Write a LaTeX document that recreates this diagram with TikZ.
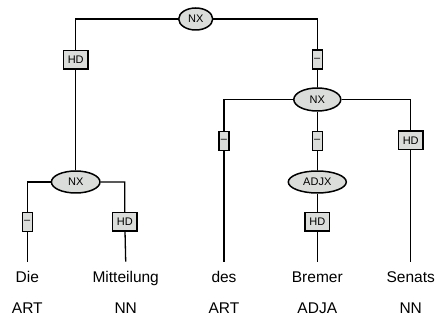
\documentclass[tikz,border=0pt]{standalone}
\usepackage{fontspec}
\setmainfont{Liberation Sans}
\usetikzlibrary{shapes.geometric,backgrounds}
\definecolor{nodegrey}{RGB}{218,221,217}
\begin{document}
\begin{tikzpicture}[x=1pt,y=-1pt,
  catnode/.style={ellipse,draw=black,line width=1.5pt,fill=nodegrey,inner sep=0pt,minimum height=22pt,font=\fontsize{11}{12}\selectfont},
  funcbox/.style={rectangle,draw=black,line width=1.5pt,fill=nodegrey,inner sep=0pt,minimum height=18.5pt,minimum width=24.5pt,font=\fontsize{11}{12}\selectfont},
  dashbox/.style={funcbox,minimum width=10pt,minimum height=19pt},
  word/.style={inner sep=0pt,outer ysep=10pt,text height=11pt,text depth=0pt,font=\fontsize{15.5}{17}\selectfont},
  tag/.style={inner sep=0pt,text height=11pt,text depth=0pt,font=\fontsize{15.5}{17}\selectfont},
  edge/.style={line width=1.3pt,draw=black}]
\useasboundingbox (0,0) rectangle (436,320);
% nodes
\node[catnode,minimum width=34pt] (nxA) at (195.7,19) {NX};
\node[funcbox] (hdA) at (75.7,60) {HD};
\node[dashbox] (dA) at (317.3,59.5) {–};
\node[catnode,minimum width=47pt,minimum height=23pt] (nxB) at (317.3,99.5) {NX};
\node[catnode,minimum width=48.6pt] (nxC) at (75.7,182) {NX};
\node[dashbox] (dB) at (224,141) {–};
\node[dashbox] (dC) at (317.3,141) {–};
\node[funcbox] (hdB) at (410.7,140.5) {HD};
\node[catnode,minimum width=58pt] (adjx) at (317.3,182) {ADJX};
\node[dashbox] (dD) at (27.3,222) {–};
\node[funcbox] (hdC) at (124.8,222) {HD};
\node[funcbox] (hdD) at (317.3,222) {HD};
% words
\node[word] (w1) at (27.3,277.2) {Die};
\node[word] (w2) at (125.7,277.2) {Mitteilung};
\node[word] (w3) at (224,277.2) {des};
\node[word] (w4) at (317.3,277.2) {Bremer};
\node[word] (w5) at (410.7,277.2) {Senats};
\node[tag] (t1) at (27.3,307.7) {ART};
\node[tag] (t2) at (125.7,307.7) {NN};
\node[tag] (t3) at (224,307.7) {ART};
\node[tag] (t4) at (317.3,307.7) {ADJA};
\node[tag] (t5) at (410.7,307.7) {NN};
% edges
\begin{scope}[on background layer]
\draw[edge] (nxA) -| (hdA) -- (nxC);
\draw[edge] (nxA) -| (dA) -- (nxB);
\draw[edge] (nxB) -| (dB) -- (w3.north);
\draw[edge] (nxB) -- (dC) -- (adjx);
\draw[edge] (nxB) -| (hdB) -- (w5.north);
\draw[edge] (adjx) -- (hdD) -- (w4.north);
\draw[edge] (nxC) -| (dD) -- (w1.north);
\draw[edge] (nxC) -| (hdC) -- (w2.north);
\end{scope}
\end{tikzpicture}
\end{document}
